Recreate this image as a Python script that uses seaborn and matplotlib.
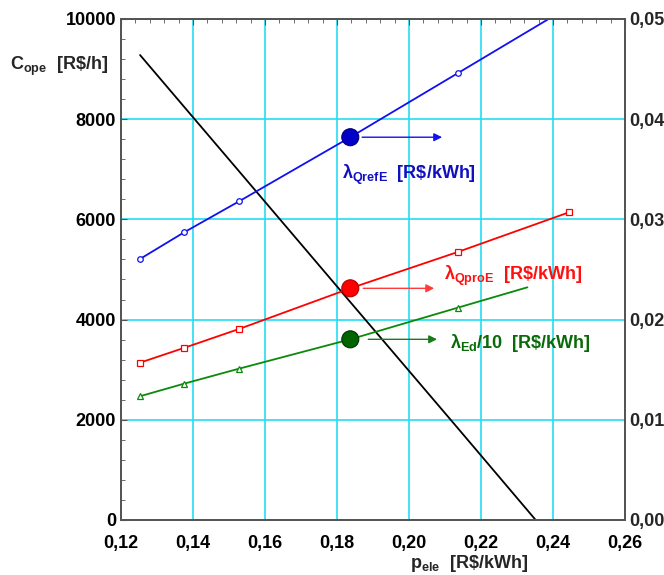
import numpy as np
import pandas as pd
import matplotlib
matplotlib.use("Agg")
import matplotlib.pyplot as plt
from matplotlib.ticker import MultipleLocator, FuncFormatter
import seaborn as sns

# ---------------- data ----------------
p_ele = [0.1253, 0.1375, 0.1528, 0.1837, 0.2136, 0.2444]
lam_qrefe = [0.02605, 0.0287, 0.0318, 0.0382, 0.0446, 0.0512]
lam_qproe = [0.0157, 0.01717, 0.01906, 0.02312, 0.02675, 0.0307]
p_ele_ed = [0.1253, 0.1375, 0.1528, 0.1837, 0.2136, 0.2329]
lam_ed10 = [0.01235, 0.0136, 0.0151, 0.01803, 0.02119, 0.02322]
p_ele_cost = [0.1253, 0.1375, 0.1528, 0.1837, 0.2136, 0.2352]
c_ope = [9280, 8250, 6960, 4350, 1830, 0]
p_ref = 0.1837
x_ticks = [0.12, 0.14, 0.16, 0.18, 0.20, 0.22, 0.24, 0.26]
y_ticks = [0, 2000, 4000, 6000, 8000, 10000]
y2_ticks = [0.00, 0.01, 0.02, 0.03, 0.04, 0.05]

BLUE, RED, GREEN = "#1010F0", "#FF0000", "#0A8A0A"

sns.set_style("white")
plt.rcParams["font.family"] = ["Liberation Sans", "DejaVu Sans"]
plt.rcParams["font.weight"] = "bold"
plt.rcParams["mathtext.fontset"] = "custom"
plt.rcParams["mathtext.rm"] = "Liberation Sans:bold"
plt.rcParams["mathtext.it"] = "Liberation Sans:bold"
plt.rcParams["mathtext.bf"] = "Liberation Sans:bold"
plt.rcParams["mathtext.default"] = "rm"

fig = plt.figure(figsize=(6.64, 5.75), dpi=100)
ax = fig.add_axes([0.1822, 0.0957, 0.7590, 0.8713])
ax2 = ax.twinx()

df_cost = pd.DataFrame({"p": p_ele_cost, "c": c_ope})
sns.lineplot(data=df_cost, x="p", y="c", ax=ax, color="black", lw=1.3)

ax.set_xlim(0.12, 0.26)
ax.set_ylim(0, 10000)
ax.set_xticks(x_ticks)
ax.set_yticks(y_ticks)
ax.xaxis.set_minor_locator(MultipleLocator(0.004))
ax.yaxis.set_minor_locator(MultipleLocator(400))
ax.xaxis.set_major_formatter(FuncFormatter(lambda v, _: f"{v:.2f}".replace(".", ",")))
ax.grid(True, which="major", color="#22DDF2", lw=1.2)
ax.set_axisbelow(True)
ax.tick_params(axis="both", which="both", direction="in", labelsize=13, colors="#555555",
               labelcolor="black", top=True, right=False)
ax.tick_params(which="major", length=4)
ax.tick_params(which="minor", length=3)
ax.tick_params(axis="x", which="major", pad=11)
ax.set_xlabel("")
ax.set_ylabel("")
for lab in ax.get_xticklabels() + ax.get_yticklabels():
    lab.set_fontweight("bold")

df_b = pd.DataFrame({"p": p_ele, "v": lam_qrefe})
df_r = pd.DataFrame({"p": p_ele, "v": lam_qproe})
df_g = pd.DataFrame({"p": p_ele_ed, "v": lam_ed10})
sns.lineplot(data=df_b, x="p", y="v", ax=ax2, color=BLUE, lw=1.3, marker="o",
             markersize=4, markerfacecolor="white", markeredgecolor=BLUE, markeredgewidth=0.9)
sns.lineplot(data=df_r, x="p", y="v", ax=ax2, color=RED, lw=1.3, marker="s",
             markersize=5, markerfacecolor="white", markeredgecolor=RED, markeredgewidth=0.9)
sns.lineplot(data=df_g, x="p", y="v", ax=ax2, color=GREEN, lw=1.3, marker="^",
             markersize=5, markerfacecolor="white", markeredgecolor=GREEN, markeredgewidth=0.9,
             markevery=[0, 1, 2, 3, 4])

i_ref = p_ele.index(p_ref)
big = pd.DataFrame({"p": [p_ref] * 3,
                    "v": [lam_qrefe[i_ref], lam_qproe[i_ref], lam_ed10[i_ref]],
                    "s": ["b", "r", "g"]})
sns.scatterplot(data=big, x="p", y="v", hue="s",
                palette={"b": "#0000C8", "r": "#FF0000", "g": "#006400"},
                s=150, edgecolor=["#000070", "#B00000", "#003000"], linewidth=0.8,
                ax=ax2, legend=False, zorder=5)

ax2.set_ylim(0, 0.05)
ax2.set_yticks(y2_ticks)
ax2.yaxis.set_major_formatter(FuncFormatter(lambda v, _: f"{v:.2f}".replace(".", ",")))
ax2.tick_params(axis="y", length=0, labelsize=13, pad=3)
for lab in ax2.get_yticklabels():
    lab.set_fontweight("bold")
ax2.set_xlabel("")
ax2.set_ylabel("")
for a in (ax, ax2):
    for s in a.spines.values():
        s.set_color("#555555")
        s.set_linewidth(1.3)

# arrows and labels
arrows = [(0.1870, 0.2092, lam_qrefe[i_ref], BLUE),
          (0.1873, 0.2070, lam_qproe[i_ref], "#FF3A3A"),
          (0.1887, 0.2078, lam_ed10[i_ref], "#1A7A1A")]
for x0, x1, yv, col in arrows:
    ax2.annotate("", xy=(x1, yv), xytext=(x0, yv),
                 arrowprops=dict(arrowstyle="-|>", color=col, lw=1.0,
                                 mutation_scale=12, shrinkA=0, shrinkB=0))

ax2.text(0.1815, 0.0344, r"$\lambda_{QrefE}$  [R\$/kWh]", color="#1010C0",
         fontsize=13, fontweight="bold", va="center", ha="left")
ax2.text(0.2098, 0.02435, r"$\lambda_{QproE}$  [R\$/kWh]", color="#FF1010",
         fontsize=13, fontweight="bold", va="center", ha="left")
ax2.text(0.2114, 0.01766, r"$\lambda_{Ed}$/10  [R\$/kWh]", color="#0A6A0A",
         fontsize=13, fontweight="bold", va="center", ha="left")

fig.text(10 / 664, 1 - 66 / 575, r"$C_{ope}$  [R\$/h]", fontsize=13,
         fontweight="bold", ha="left", va="center")
fig.text(410 / 664, 1 - 563 / 575, r"$p_{ele}$  [R\$/kWh]", fontsize=13,
         fontweight="bold", ha="left", va="center")

fig.savefig("out.png", dpi=100)
